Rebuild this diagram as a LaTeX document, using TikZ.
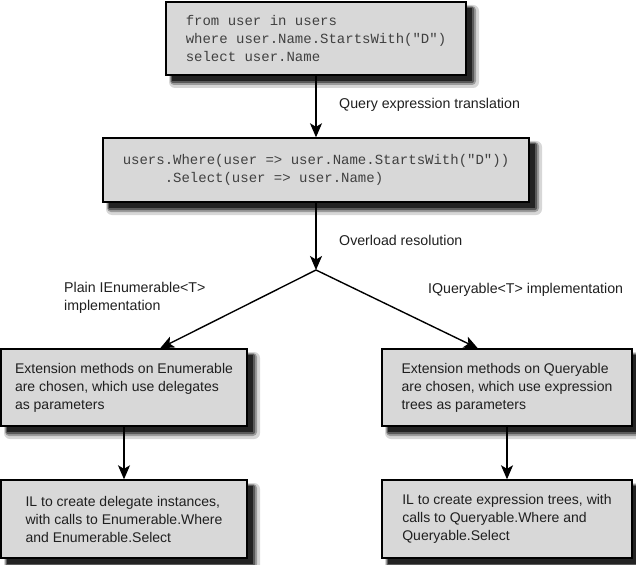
\documentclass[tikz,border=0pt]{standalone}
\usepackage{fontspec}
\setmainfont{Liberation Sans}
\newfontfamily\codefont{Liberation Mono}
\usetikzlibrary{arrows.meta,calc}
\definecolor{boxfill}{RGB}{216,216,216}
\definecolor{shA}{RGB}{215,215,215}
\definecolor{shB}{RGB}{155,155,155}
\definecolor{shC}{RGB}{90,90,90}
\definecolor{shD}{RGB}{35,35,35}
\tikzset{
 box/.style={draw=black, line width=1.4pt, fill=boxfill, align=left,
   font=\fontsize{14}{18}\selectfont, text=black!88, inner sep=0pt},
 codebox/.style={box, font=\codefont\fontsize{14}{18}\selectfont, text=black!75},
 flow/.style={line width=1.4pt, -{Stealth[length=14pt,width=12pt,inset=3.5pt]}},
 lbl/.style={font=\fontsize{14.2}{18}\selectfont, align=left, inner sep=0pt, text=black!88},
}
% soft drop shadow of a box given by its left, top, right, bottom edges (x right, y down)
\newcommand\boxshadow[4]{%
  \fill[shA, rounded corners=6pt] (#1+3,#2+3) rectangle (#3+13,#4+13);
  \fill[shB, rounded corners=4pt] (#1+4,#2+4) rectangle (#3+10,#4+10);
  \fill[shC, rounded corners=2pt] (#1+5,#2+5) rectangle (#3+8,#4+8);
  \fill[shD] (#1+6,#2+6) rectangle (#3+6,#4+6);}
\begin{document}
\begin{tikzpicture}[x=1pt,y=-1pt]
\useasboundingbox (0,0) rectangle (636,564);
\boxshadow{166}{2}{466}{75}
\boxshadow{103}{138}{529}{202}
\boxshadow{1}{349}{247}{426}
\boxshadow{382}{349}{632}{426}
\boxshadow{1}{480}{247}{558}
\boxshadow{382}{480}{632}{558}
\node[codebox, minimum width=300pt, minimum height=73pt] (q) at (316,38.5)
  {from user in users\\where user.Name.StartsWith("D")\\select user.Name};
\node[codebox, minimum width=426pt, minimum height=64pt] (tr) at (316,170)
  {users.Where(user => user.Name.StartsWith("D"))\\\hspace*{42pt}.Select(user => user.Name)};
\node[box, minimum width=246pt, minimum height=77pt] (en) at (124,387.5)
  {Extension methods on Enumerable\\are chosen, which use delegates\\as parameters};
\node[box, minimum width=250pt, minimum height=77pt] (qu) at (507,387.5)
  {Extension methods on Queryable\\are chosen, which use expression\\trees as parameters};
\node[box, minimum width=246pt, minimum height=78pt] (ens) at (124,519)
  {IL to create delegate instances,\\with calls to Enumerable.Where\\and Enumerable.Select};
\node[box, minimum width=250pt, minimum height=78pt] (qus) at (507,519)
  {IL to create expression trees, with\\calls to Queryable.Where and\\Queryable.Select};
\coordinate (j) at (316,270);
\node[lbl, anchor=west] (l1) at (339,105) {Query expression translation};
\node[lbl, anchor=west] (l2) at (339,240) {Overload resolution};
\node[lbl, anchor=west] (l3) at (64,298) {Plain IEnumerable<T>\\implementation};
\node[lbl, anchor=west] (l4) at (428,290) {IQueryable<T> implementation};
\draw[flow] (q.south) -- (tr.north);
\draw[flow] (tr.south) -- (j);
\draw[flow] (j) -- ($(en.north west)!0.646!(en.north east)$);
\draw[flow] (j) -- ($(qu.north west)!0.384!(qu.north east)$);
\draw[flow] (en.south) -- (ens.north);
\draw[flow] (qu.south) -- (qus.north);
\end{tikzpicture}
\end{document}
